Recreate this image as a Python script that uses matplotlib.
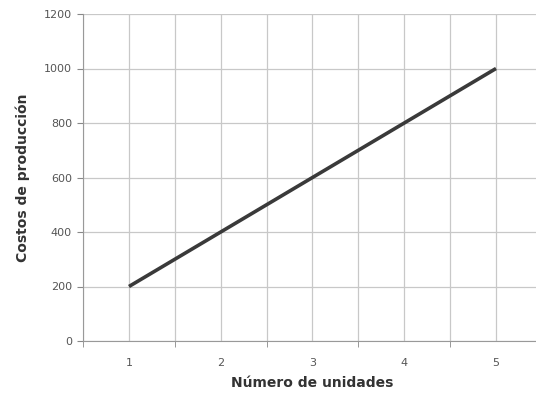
import matplotlib
matplotlib.use("Agg")
import matplotlib.pyplot as plt

unidades = [1, 2, 3, 4, 5]
costos = [200, 400, 600, 800, 1000]
y_ticks = [0, 200, 400, 600, 800, 1000, 1200]

fig = plt.figure(figsize=(5.36, 4.0), dpi=100)
ax = fig.add_axes([0.155, 0.1475, 0.856, 0.8175])

ax.plot(unidades, costos, color="#3a3a3a", linewidth=2.6, solid_capstyle="butt")

ax.set_xlim(0.5, 5.5)
ax.set_ylim(0, 1200)

# category ticks at the labels, boundary ticks between them
ax.set_xticks(unidades)
ax.set_xticks([0.5, 1.5, 2.5, 3.5, 4.5, 5.5], minor=True)
ax.set_yticks(y_ticks)

ax.grid(True, which="both", axis="x", color="#c8c8c8", linewidth=0.9)
ax.grid(True, which="major", axis="y", color="#c8c8c8", linewidth=0.9)

ax.tick_params(axis="x", which="major", length=0, pad=12, labelsize=8, labelcolor="#555555")
ax.tick_params(axis="x", which="minor", length=4, color="#888888", direction="out")
ax.tick_params(axis="y", length=4, color="#888888", labelsize=8, labelcolor="#555555", pad=4)

for side in ["top", "right"]:
    ax.spines[side].set_visible(False)
ax.spines["left"].set_color("#999999")
ax.spines["bottom"].set_color("#999999")

ax.set_xlabel("Número de unidades", fontsize=10, fontweight="bold", color="#333333", labelpad=6)
ax.set_ylabel("Costos de producción", fontsize=10, fontweight="bold", color="#333333", labelpad=10)

fig.savefig("out.png", dpi=100)
